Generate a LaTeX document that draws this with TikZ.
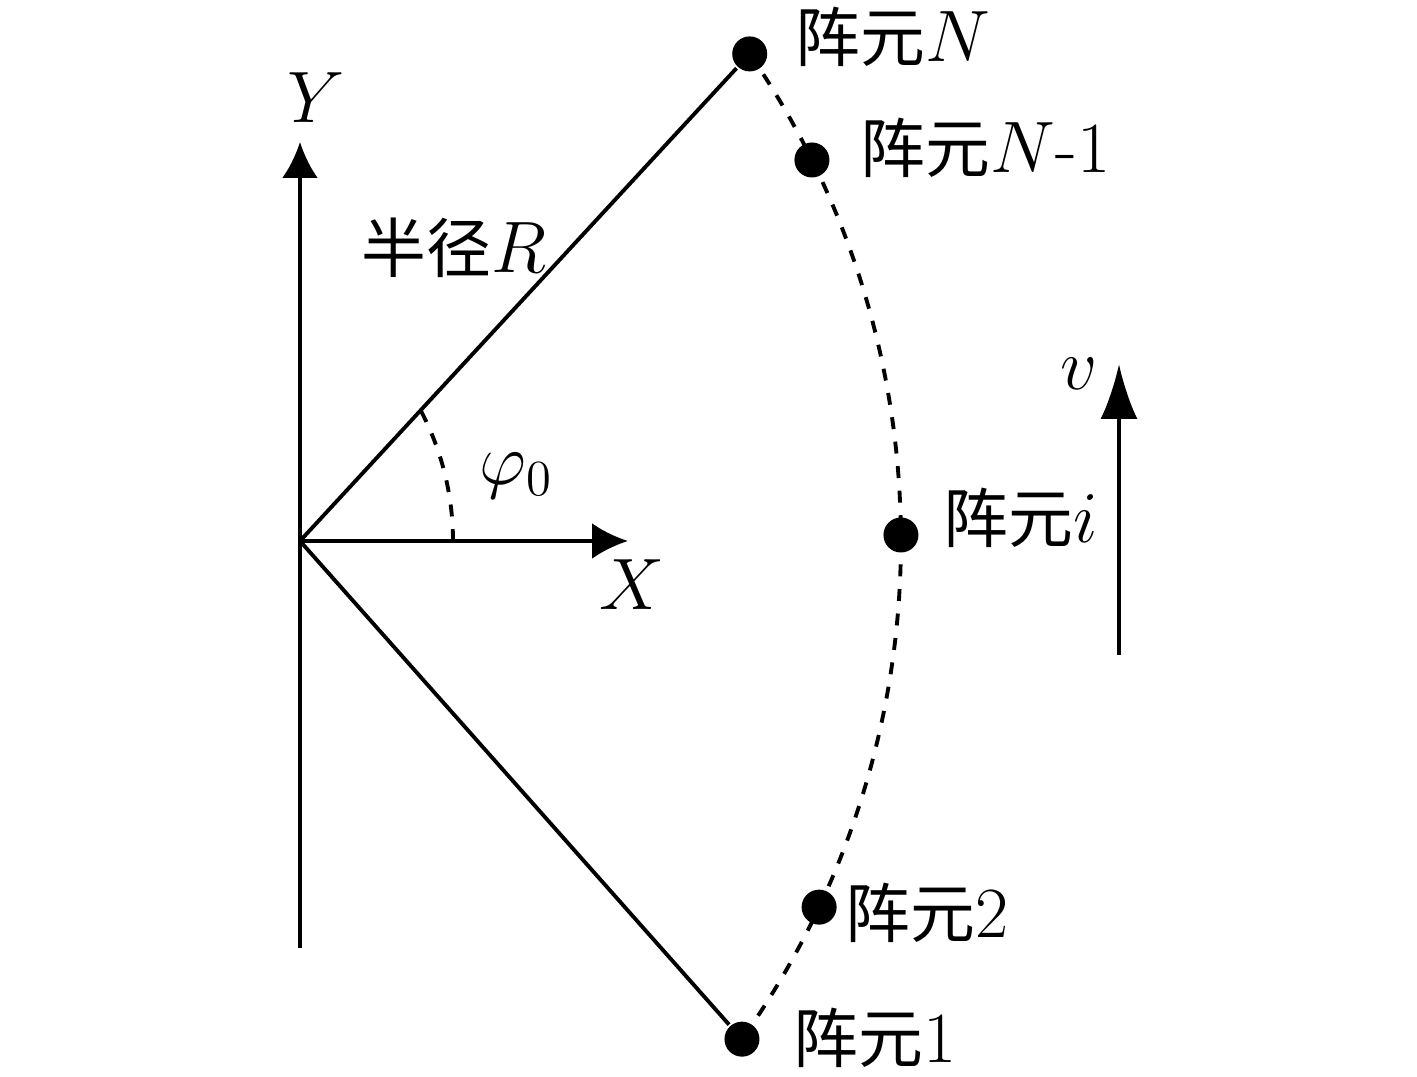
\documentclass[tikz,border=0pt]{standalone}
\usepackage{fontspec}
\newfontfamily\cjk[Scale=0.9]{Noto Sans CJK SC}
\usetikzlibrary{arrows.meta, positioning, calc}

\begin{document}
\begin{tikzpicture}[line width=1.1pt, font=\fontsize{20.5}{24}\selectfont,
  elem/.style={circle, fill=black, inner sep=0pt, minimum size=0.35cm},
  lbl/.style={anchor=base west, inner sep=0pt},
  axisarrow/.style={-{Latex[length=0.36cm, width=0.36cm]}},
  dashline/.style={dash pattern=on 3.4pt off 3.6pt}]
  \useasboundingbox (-3.00,-5.36) rectangle (11.17,5.41);

  % Axes
  \coordinate (O) at (0,0);
  \coordinate (Ybot) at (0,-4.07);
  \coordinate (Ytip) at (0,3.99);
  \coordinate (Xtip) at (3.28,0);
  \draw[axisarrow] (Ybot) -- (Ytip);
  \draw[axisarrow] (O) -- (Xtip);
  \node[anchor=base] (Ylab) at (0.16,4.18) {$Y$};
  \node[anchor=base] (Xlab) at (3.32,-0.69) {$X$};

  % Array elements on the arc
  \coordinate (C) at (-2.59,0);
  \node[elem] (eN) at ([shift={(34.5:8.6)}]C) {};
  \node[elem] (eN1) at ([shift={(26.3:8.6)}]C) {};
  \node[elem] (ei) at ([shift={(0.4:8.6)}]C) {};
  \node[elem] (e2) at ([shift={(-25.2:8.6)}]C) {};
  \node[elem] (e1) at ([shift={(-35.4:8.6)}]C) {};
  \draw (O) -- (eN);
  \draw (O) -- (e1);
  \draw[dashline] (eN.center) arc[start angle=34.5, end angle=-35.4, radius=8.6];

  % Labels
  \node[lbl] (lN) at (4.94,4.79) {{\cjk 阵元}$N$};
  \node[lbl] (lN1) at (5.59,3.68) {{\cjk 阵元}$N$-1};
  \node[lbl] (li) at (6.42,-0.02) {{\cjk 阵元}$i$};
  \node[lbl] (l2) at (5.44,-3.97) {{\cjk 阵元}2};
  \node[lbl] (l1) at (4.92,-5.22) {{\cjk 阵元}1};
  \node[lbl] (lR) at (0.60,2.68) {{\cjk 半径}$R$};

  % Angle
  \coordinate (A) at (1.53,0);
  \draw[dashline] (A) arc[start angle=0, end angle=28, radius=2.8];
  \node[lbl] (lphi) at (1.78,0.56) {$\varphi_0$};

  % Velocity
  \coordinate (vbot) at (8.19,-1.14);
  \coordinate (vtop) at (8.19,1.77);
  \draw[-{Latex[length=0.55cm, width=0.37cm]}] (vbot) -- (vtop);
  \node[anchor=base] (vlab) at (7.79,1.51) {$v$};
\end{tikzpicture}
\end{document}
